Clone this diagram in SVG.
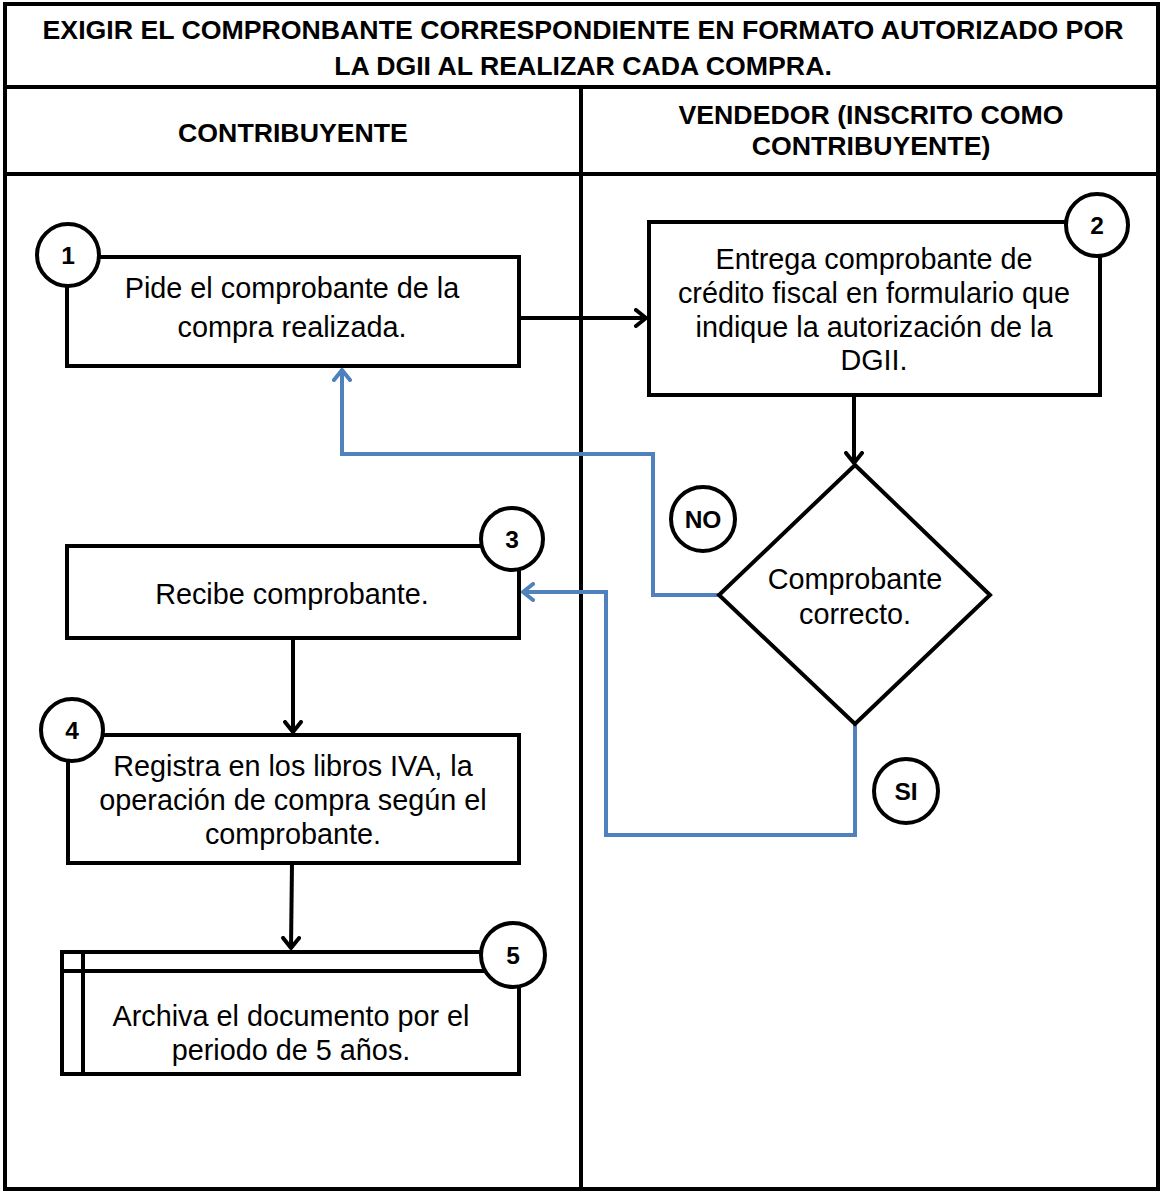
<svg xmlns="http://www.w3.org/2000/svg" width="1161" height="1191" viewBox="0 0 1161 1191">
  <style>
    .frame { fill: none; stroke: #000; stroke-width: 4; }
    .box { fill: #fff; stroke: #000; stroke-width: 4; }
    .num { fill: #fff; stroke: #000; stroke-width: 4; }
    .hdr { font-family: "Liberation Sans", Arial, sans-serif; font-weight: bold; font-size: 26.7px; fill: #000; text-anchor: middle; }
    .lbl { font-family: "Liberation Sans", Arial, sans-serif; font-size: 28.8px; fill: #000; text-anchor: middle; }
    .tag { font-family: "Liberation Sans", Arial, sans-serif; font-weight: bold; font-size: 24.5px; fill: #000; text-anchor: middle; }
    .flow { fill: none; stroke: #000; stroke-width: 4; }
    .loop { fill: none; stroke: #4F81BD; stroke-width: 4; }
  </style>
  <defs>
    <marker id="arrowBlack" markerWidth="14" markerHeight="20" refX="12" refY="10" orient="auto" markerUnits="userSpaceOnUse" viewBox="0 0 14 20">
      <path d="M2,2 L12,10 L2,18" fill="none" stroke="#000" stroke-width="4" stroke-linecap="round" stroke-linejoin="round"/>
    </marker>
    <marker id="arrowBlue" markerWidth="14" markerHeight="20" refX="12" refY="10" orient="auto" markerUnits="userSpaceOnUse" viewBox="0 0 14 20">
      <path d="M2,2 L12,10 L2,18" fill="none" stroke="#4F81BD" stroke-width="4" stroke-linecap="round" stroke-linejoin="round"/>
    </marker>
  </defs>

  <rect width="1161" height="1191" fill="#fff"/>

  <!-- swimlane frame -->
  <g id="lanes">
    <rect class="frame" x="5" y="4" width="1153" height="1185"/>
    <line class="frame" x1="5" y1="87" x2="1158" y2="87"/>
    <line class="frame" x1="5" y1="174" x2="1158" y2="174"/>
    <line class="frame" x1="581" y1="87" x2="581" y2="1189"/>
    <text class="hdr" x="583" y="39">EXIGIR EL COMPRONBANTE CORRESPONDIENTE EN FORMATO AUTORIZADO POR</text>
    <text class="hdr" x="583" y="75">LA DGII AL REALIZAR CADA COMPRA.</text>
    <text class="hdr" x="293" y="142">CONTRIBUYENTE</text>
    <text class="hdr" x="871" y="124">VENDEDOR (INSCRITO COMO</text>
    <text class="hdr" x="871" y="155">CONTRIBUYENTE)</text>
  </g>

  <!-- connectors -->
  <g id="connectors">
    <line class="flow" x1="519" y1="318" x2="646" y2="318" marker-end="url(#arrowBlack)"/>
    <line class="flow" x1="854" y1="395" x2="854" y2="463" marker-end="url(#arrowBlack)"/>
    <line class="flow" x1="293" y1="638" x2="293" y2="732" marker-end="url(#arrowBlack)"/>
    <line class="flow" x1="292" y1="863" x2="291" y2="948" marker-end="url(#arrowBlack)"/>
    <polyline class="loop" points="718,595 653,595 653,454 342,454 342,370" marker-end="url(#arrowBlue)"/>
    <polyline class="loop" points="855,724 855,835 606,835 606,592 523,592" marker-end="url(#arrowBlue)"/>
  </g>

  <g id="step1">
    <rect class="box" x="67" y="257" width="452" height="109"/>
    <text class="lbl" x="292" y="298">Pide el comprobante de la</text>
    <text class="lbl" x="292" y="337">compra realizada.</text>
    <circle class="num" cx="68" cy="255" r="31"/>
    <text class="tag" x="68" y="264">1</text>
  </g>

  <g id="step2">
    <rect class="box" x="649" y="222" width="451" height="173"/>
    <text class="lbl" x="874" y="269">Entrega comprobante de</text>
    <text class="lbl" x="874" y="303">crédito fiscal en formulario que</text>
    <text class="lbl" x="874" y="337">indique la autorización de la</text>
    <text class="lbl" x="874" y="370">DGII.</text>
    <circle class="num" cx="1097" cy="225" r="31"/>
    <text class="tag" x="1097" y="234">2</text>
  </g>

  <g id="decision">
    <polygon class="box" points="855,465 990,595 855,724 719,595"/>
    <text class="lbl" x="855" y="589">Comprobante</text>
    <text class="lbl" x="855" y="624">correcto.</text>
  </g>

  <g id="label-no">
    <circle class="num" cx="703" cy="519" r="32"/>
    <text class="tag" x="703" y="528">NO</text>
  </g>

  <g id="label-si">
    <circle class="num" cx="906" cy="791" r="32"/>
    <text class="tag" x="906" y="800">SI</text>
  </g>

  <g id="step3">
    <rect class="box" x="67" y="546" width="452" height="92"/>
    <text class="lbl" x="292" y="604">Recibe comprobante.</text>
    <circle class="num" cx="512" cy="539" r="31"/>
    <text class="tag" x="512" y="548">3</text>
  </g>

  <g id="step4">
    <rect class="box" x="68" y="735" width="451" height="128"/>
    <text class="lbl" x="293" y="776">Registra en los libros IVA, la</text>
    <text class="lbl" x="293" y="810">operación de compra según el</text>
    <text class="lbl" x="293" y="844">comprobante.</text>
    <circle class="num" cx="72" cy="730" r="31"/>
    <text class="tag" x="72" y="739">4</text>
  </g>

  <g id="step5">
    <rect class="box" x="62" y="952" width="457" height="122"/>
    <line class="flow" x1="62" y1="971" x2="519" y2="971"/>
    <line class="flow" x1="83" y1="952" x2="83" y2="1074"/>
    <text class="lbl" x="291" y="1026">Archiva el documento por el</text>
    <text class="lbl" x="291" y="1060">periodo de 5 años.</text>
    <circle class="num" cx="513" cy="955" r="32"/>
    <text class="tag" x="513" y="964">5</text>
  </g>
</svg>
